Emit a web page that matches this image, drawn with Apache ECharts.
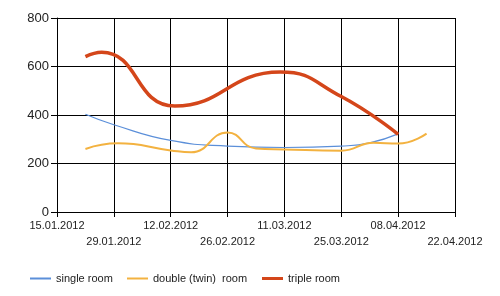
<!DOCTYPE html>
<html><head><meta charset="utf-8">
<script src="https://cdn.jsdelivr.net/npm/echarts@6/dist/echarts.min.js"></script>
<style>html,body{margin:0;padding:0;background:#fff}#c{width:500px;height:296px}</style>
</head><body><div id="c"></div>
<script>
// x values are days since 15.01.2012
var baseDate = Date.UTC(2012, 0, 15);
var singleDays = [7, 14, 28, 42, 56, 70, 77, 84];
var singleRoom = [403, 360, 295, 272, 266, 272, 285, 322];
var doubleDays = [7, 15, 28, 33, 42, 49, 56, 70, 78, 84, 91];
var doubleRoom = [260, 283, 254, 246, 328, 262, 258, 253, 286, 282, 323];
var tripleDays = [7, 11, 29, 55, 70, 84];
var tripleRoom = [641, 659, 437, 577, 476, 320];
var yTicks = [0, 200, 400, 600, 800];

function pairs(ds, vals) {
  var out = [];
  for (var i = 0; i < ds.length; i++) out.push([ds[i], vals[i]]);
  return out;
}
function fmtDate(d) {
  var t = new Date(baseDate + d * 86400000);
  var dd = ('0' + t.getUTCDate()).slice(-2), mm = ('0' + (t.getUTCMonth() + 1)).slice(-2);
  return dd + '.' + mm + '.' + t.getUTCFullYear();
}
var font = 'Liberation Sans, Arial, sans-serif';
var chart = echarts.init(document.getElementById('c'), null, {renderer: 'canvas'});
function leg(name, left, h) {
  return {data: [name], left: left, top: 268, icon: 'rect', itemWidth: 21, itemHeight: h, itemGap: 5,
    textStyle: {fontFamily: font, fontSize: 11, color: '#222', padding: [0, 0, 0, 0]}, selectedMode: false};
}
chart.setOption({
  animation: false,
  backgroundColor: '#fff',
  grid: {left: 57, right: 45, top: 18, bottom: 84},
  legend: [leg('single room', 25, 2), leg('double (twin)  room', 122, 2), leg('triple room', 257, 3)],
  xAxis: {
    type: 'value', min: 0, max: 98, interval: 14,
    axisLine: {lineStyle: {color: '#000', width: 1}},
    axisTick: {show: true, length: 5, lineStyle: {color: '#000'}},
    splitLine: {show: true, lineStyle: {color: '#000', width: 1}},
    axisLabel: {
      margin: 6, fontFamily: font, fontSize: 11, color: '#222', lineHeight: 16,
      showMinLabel: true, showMaxLabel: true,
      formatter: function (v) { var i = Math.round(v / 14); return (i % 2 ? '\n' : '') + fmtDate(v); }
    }
  },
  yAxis: {
    type: 'value', min: 0, max: 800, interval: 200,
    axisLine: {show: true, lineStyle: {color: '#000', width: 1}},
    axisTick: {show: true, length: 6, lineStyle: {color: '#000'}},
    splitLine: {show: true, lineStyle: {color: '#000', width: 1}},
    axisLabel: {margin: 8, fontFamily: font, fontSize: 13, color: '#222',
      formatter: function (v) { return yTicks.indexOf(v) >= 0 ? String(v) : ''; }}
  },
  series: [
    {name: 'single room', type: 'line', smooth: 0.5, symbol: 'none', data: pairs(singleDays, singleRoom),
      lineStyle: {color: '#5b8fd9', width: 1.2}, itemStyle: {color: '#5b8fd9'}},
    {name: 'double (twin)  room', type: 'line', smooth: 0.5, symbol: 'none', data: pairs(doubleDays, doubleRoom),
      lineStyle: {color: '#f3b240', width: 2}, itemStyle: {color: '#f3b240'}},
    {name: 'triple room', type: 'line', smooth: 0.5, symbol: 'none', data: pairs(tripleDays, tripleRoom),
      lineStyle: {color: '#d4461a', width: 3.5}, itemStyle: {color: '#d4461a'}}
  ]
});
</script></body></html>
